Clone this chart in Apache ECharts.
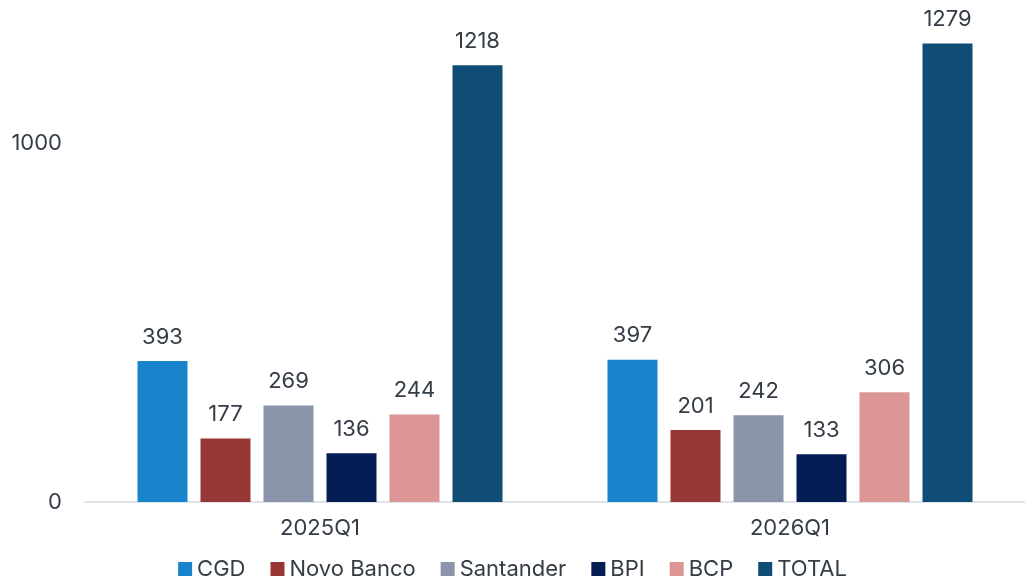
<!DOCTYPE html>
<html><head><meta charset="utf-8">
<script src="https://cdn.jsdelivr.net/npm/echarts@6/dist/echarts.min.js"></script>
<style>html,body{margin:0;padding:0;background:#fff}#c{width:1025px;height:582px}</style>
</head><body><div id="c"></div>
<script>
const categories = ['2025Q1', '2026Q1'];
const seriesNames = ['CGD', 'Novo Banco', 'Santander', 'BPI', 'BCP', 'TOTAL'];
const CGD = [393, 397];
const NovoBanco = [177, 201];
const Santander = [269, 242];
const BPI = [136, 133];
const BCP = [244, 306];
const TOTAL = [1218, 1279];
const colors = ['#1984cc', '#963735', '#8a95ab', '#041d55', '#dc9696', '#0f4c76'];
const values = [CGD, NovoBanco, Santander, BPI, BCP, TOTAL];
const textColor = '#343c46';
const font = 'Inter, "Open Sans", sans-serif';

const chart = echarts.init(document.getElementById('c'));
chart.setOption({
  animation: false,
  textStyle: { fontFamily: font, color: textColor },
  grid: { left: 85, width: 947, top: 0, bottom: 80, containLabel: false },
  legend: {
    bottom: -3, left: 'center', itemWidth: 14, itemHeight: 14, itemGap: 25,
    icon: 'rect',
    textStyle: { fontSize: 22, color: textColor, fontFamily: font },
    data: seriesNames
  },
  xAxis: {
    type: 'category', data: categories,
    axisLine: { lineStyle: { color: '#dfe3ea', width: 2 } },
    axisTick: { show: false },
    axisLabel: { fontSize: 22, color: textColor, margin: 15, fontFamily: font }
  },
  yAxis: {
    type: 'value', min: 0, max: 1400, interval: 1000,
    splitLine: { show: false },
    axisLine: { show: false }, axisTick: { show: false },
    axisLabel: { fontSize: 22, color: textColor, margin: 23, showMaxLabel: false, fontFamily: font,
      formatter: v => String(v) }
  },
  series: seriesNames.map((n, i) => ({
    name: n, type: 'bar', data: values[i], barWidth: 50, barGap: '26%',
    itemStyle: { color: colors[i] },
    label: { show: true, position: 'top', distance: 13, fontSize: 22, color: textColor, fontFamily: font }
  }))
});
</script></body></html>
